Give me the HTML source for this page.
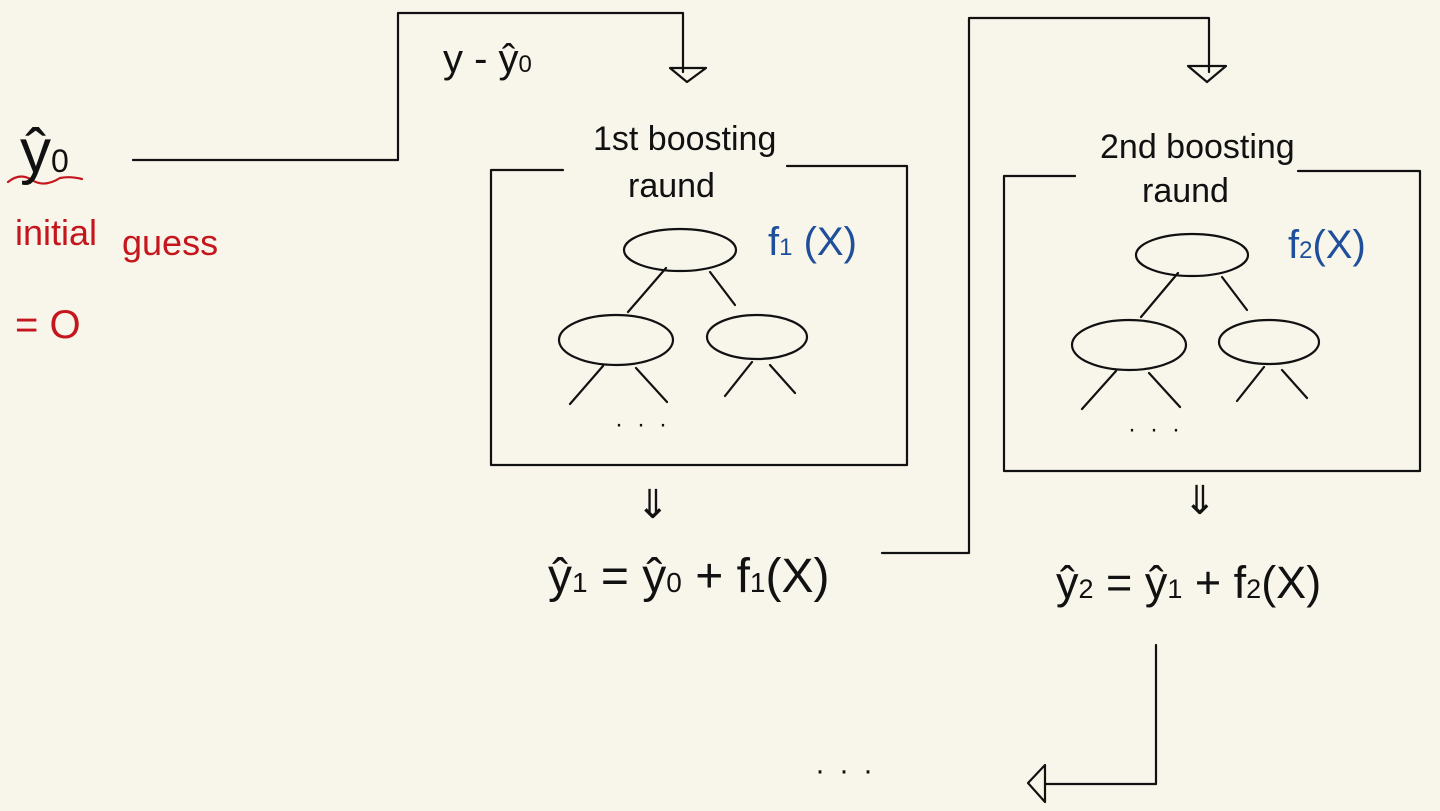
<!DOCTYPE html>
<html><head><meta charset="utf-8"><style>
html,body{margin:0;padding:0;background:#f8f6eb;}
svg{display:block;}
text{font-family:"Liberation Sans",sans-serif;}
</style></head><body>
<svg width="1440" height="811" viewBox="0 0 1440 811">
<rect width="1440" height="811" fill="#f8f6eb"/>
<g stroke="#111" stroke-width="2.2" fill="none" stroke-linecap="round" stroke-linejoin="round">
  <polyline points="133,160 398,160 398,13 683,13 683,72"/>
  <path d="M670,68 L706,68 L687,82 Z"/>
  <path d="M563,170 L491,170 L491,465 L907,465 L907,166 L787,166"/>
  <g>
    <ellipse cx="680" cy="250" rx="56" ry="21"/>
    <ellipse cx="616" cy="340" rx="57" ry="25"/>
    <ellipse cx="757" cy="337" rx="50" ry="22"/>
    <line x1="666" y1="268" x2="628" y2="312"/>
    <line x1="710" y1="272" x2="735" y2="305"/>
    <line x1="603" y1="366" x2="570" y2="404"/>
    <line x1="636" y1="368" x2="667" y2="402"/>
    <line x1="752" y1="362" x2="725" y2="396"/>
    <line x1="770" y1="365" x2="795" y2="393"/>
  </g>
  <polyline points="882,553 969,553 969,18 1209,18 1209,72"/>
  <path d="M1188,66 L1226,66 L1207,82 Z"/>
  <path d="M1075,176 L1004,176 L1004,471 L1420,471 L1420,171 L1298,171"/>
  <g>
    <ellipse cx="1192" cy="255" rx="56" ry="21"/>
    <ellipse cx="1129" cy="345" rx="57" ry="25"/>
    <ellipse cx="1269" cy="342" rx="50" ry="22"/>
    <line x1="1178" y1="273" x2="1141" y2="317"/>
    <line x1="1222" y1="277" x2="1247" y2="310"/>
    <line x1="1116" y1="371" x2="1082" y2="409"/>
    <line x1="1149" y1="373" x2="1180" y2="407"/>
    <line x1="1264" y1="367" x2="1237" y2="401"/>
    <line x1="1282" y1="370" x2="1307" y2="398"/>
  </g>
  <polyline points="1156,645 1156,784 1045,784"/>
  <path d="M1045,765 L1028,783 L1045,802 Z"/>
  <path stroke="#c4161c" d="M8,182 Q20,172 32,180 T60,178 Q70,176 82,179"/>
</g>
<g fill="#111" font-size="40">
  <text x="443" y="72">y - ŷ<tspan font-size="24">0</tspan></text>
  <text x="20" y="172" font-size="62">ŷ<tspan font-size="32">0</tspan></text>
  <text x="593" y="150" font-size="34">1st boosting</text>
  <text x="628" y="197" font-size="34">raund</text>
  <text x="1100" y="158" font-size="34">2nd boosting</text>
  <text x="1142" y="202" font-size="34">raund</text>
  <text x="615" y="432" font-size="24" letter-spacing="14">···</text>
  <text x="1128" y="437" font-size="24" letter-spacing="14">···</text>
  <text x="636" y="518" font-size="40">⇓</text>
  <text x="1183" y="514" font-size="40">⇓</text>
  <text x="548" y="592" font-size="48">ŷ<tspan font-size="28">1</tspan> = ŷ<tspan font-size="28">0</tspan> + f<tspan font-size="28">1</tspan>(X)</text>
  <text x="1056" y="598" font-size="45">ŷ<tspan font-size="27">2</tspan> = ŷ<tspan font-size="27">1</tspan> + f<tspan font-size="27">2</tspan>(X)</text>
  <text x="815" y="780" font-size="30" letter-spacing="14">···</text>
</g>
<g fill="#1f4f9a" font-size="40">
  <text x="768" y="255">f<tspan font-size="24">1</tspan> (X)</text>
  <text x="1288" y="258">f<tspan font-size="24">2</tspan>(X)</text>
</g>
<g fill="#c4161c" font-size="36">
  <text x="15" y="245">initial</text>
  <text x="122" y="255">guess</text>
  <text x="15" y="338" font-size="40">=  O</text>
</g>
</svg>
</body></html>
